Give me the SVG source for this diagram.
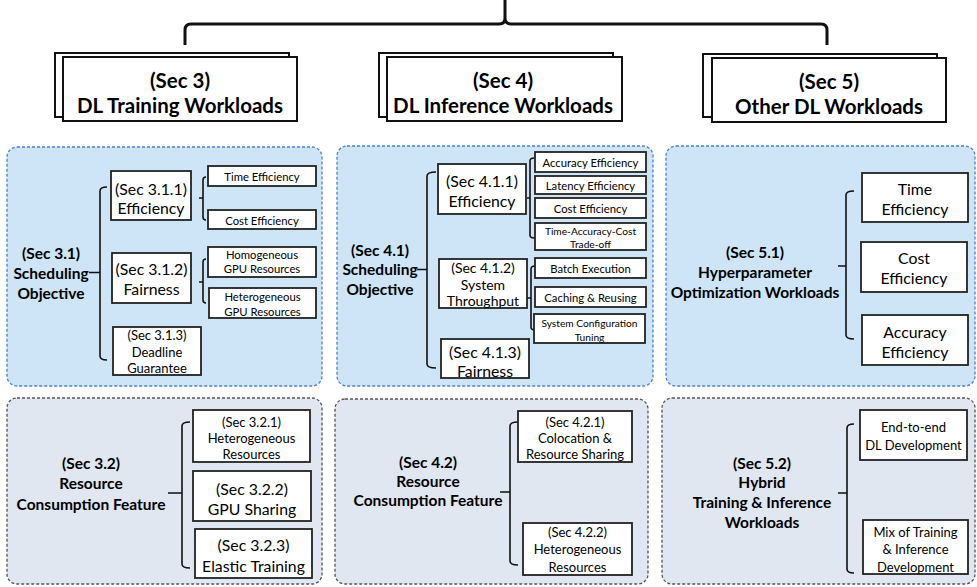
<svg xmlns="http://www.w3.org/2000/svg" width="977" height="587" viewBox="0 0 977 587">
<style>
text{font-family:Lato,"Open Sans","Liberation Sans",sans-serif;fill:#000;text-anchor:middle;dominant-baseline:central}
.hdr{font-size:20.5px;font-weight:bold}
.lbl{font-size:15.5px;font-weight:bold}
.f16{font-size:15.8px}
.f14{font-size:14px}
.f13{font-size:13px}
.f11{font-size:11.3px}
.f10{font-size:10.2px}
.pb{fill:#cde5f6;stroke:#4a7fd0;stroke-width:1.3;stroke-dasharray:3 2}
.pg{fill:#e0e7f0;stroke:#555;stroke-width:1.3;stroke-dasharray:3 2}
.box{fill:#fff;stroke:#222;stroke-width:1.8}
.hb{fill:#fff;stroke:#111;stroke-width:2}
.ln{fill:none;stroke:#111;stroke-width:1.6}
.br{fill:none;stroke:#111;stroke-width:3}
</style>

<g id="panels">
<rect class="pb" x="7" y="147" width="315" height="239" rx="10"/>
<rect class="pb" x="337" y="146" width="316" height="240" rx="10"/>
<rect class="pb" x="666" y="146" width="309" height="240" rx="10"/>
<rect class="pg" x="7" y="398" width="315" height="186" rx="10"/>
<rect class="pg" x="335" y="399" width="313" height="185" rx="10"/>
<rect class="pg" x="662" y="398" width="313" height="186" rx="10"/>
</g>

<g id="connectors">
<path class="br" d="M185,45 V30 Q185,24 191,24 H499 Q505,24 505,18 V0 M505,18 Q505,24 511,24 H821 Q827,24 827,30 V45"/>
<path class="ln" d="M89,272.5 H100 M107,187 Q100,187 100,191 V356 Q100,360 107,360"/>
<path class="ln" d="M199,198 H203 M206,177 Q203,177 203,180 V217 Q203,220 206,220"/>
<path class="ln" d="M199,282 H203 M206,259 Q203,259 203,262 V300 Q203,303 206,303"/>
<path class="ln" d="M417,269.5 H427 M436,172 Q427,172 427,176 V364 Q427,368 436,368"/>
<path class="ln" d="M527,198 H530 M534,158 Q530,158 530,161 V235 Q530,238 534,238"/>
<path class="ln" d="M527,298 H531 M535,266 Q531,266 531,269 V327 Q531,330 535,330"/>
<path class="ln" d="M838,266 H846 M854,191 Q846,191 846,195 V335 Q846,339 854,339"/>
<path class="ln" d="M168,493 H182 M190,422 Q182,422 182,426 V564 Q182,568 190,568"/>
<path class="ln" d="M500,492 H510 M518,422 Q510,422 510,426 V561 Q510,565 518,565"/>
<path class="ln" d="M838,493 H847 M854,424 Q847,424 847,428 V569 Q847,573 854,573"/>
</g>

<g id="sec3">
<rect class="hb" x="55" y="53" width="234" height="64"/>
<rect class="hb" x="63" y="57" width="234" height="64"/>
<text class="hdr" x="180" y="80">(Sec 3)</text>
<text class="hdr" x="180" y="105">DL Training Workloads</text>
</g>
<g id="sec4">
<rect class="hb" x="379" y="53" width="234" height="64"/>
<rect class="hb" x="387" y="57" width="235" height="64"/>
<text class="hdr" x="503" y="80">(Sec 4)</text>
<text class="hdr" x="503" y="104.5">DL Inference Workloads</text>
</g>
<g id="sec5">
<rect class="hb" x="703" y="54" width="234" height="63"/>
<rect class="hb" x="712" y="58" width="234" height="64"/>
<text class="hdr" x="829" y="81">(Sec 5)</text>
<text class="hdr" x="829" y="106">Other DL Workloads</text>
</g>

<g id="sec31">
<text class="lbl" x="51" y="253">(Sec 3.1)</text>
<text class="lbl" x="51" y="272.5">Scheduling</text>
<text class="lbl" x="51" y="293">Objective</text>
</g>
<g id="sec311">
<rect class="box" x="111" y="171" width="80" height="49"/>
<text class="f16" x="151" y="188">(Sec 3.1.1)</text>
<text class="f16" x="151" y="207">Efficiency</text>
</g>
<g id="n311a"><rect class="box" x="208" y="166" width="108" height="20"/><text class="f11" x="262" y="176">Time Efficiency</text></g>
<g id="n311b"><rect class="box" x="208" y="210" width="108" height="19"/><text class="f11" x="262" y="220">Cost Efficiency</text></g>
<g id="sec312">
<rect class="box" x="112" y="253" width="79" height="50"/>
<text class="f16" x="151.5" y="268">(Sec 3.1.2)</text>
<text class="f16" x="151.5" y="288">Fairness</text>
</g>
<g id="n312a"><rect class="box" x="208" y="247" width="108" height="30"/><text class="f11" x="262" y="254">Homogeneous</text><text class="f11" x="262" y="268">GPU Resources</text></g>
<g id="n312b"><rect class="box" x="209" y="288" width="107" height="30"/><text class="f11" x="262.5" y="296">Heterogeneous</text><text class="f11" x="262.5" y="311">GPU Resources</text></g>
<g id="sec313">
<rect class="box" x="113" y="327" width="88" height="48"/>
<text class="f13" x="157" y="334.5">(Sec 3.1.3)</text>
<text class="f13" x="157" y="351.5">Deadline</text>
<text class="f13" x="157" y="368">Guarantee</text>
</g>

<g id="sec41">
<text class="lbl" x="380" y="250">(Sec 4.1)</text>
<text class="lbl" x="380" y="269">Scheduling</text>
<text class="lbl" x="380" y="288.5">Objective</text>
</g>
<g id="sec411">
<rect class="box" x="438" y="164" width="88" height="50"/>
<text class="f16" x="482" y="180">(Sec 4.1.1)</text>
<text class="f16" x="482" y="200">Efficiency</text>
</g>
<g id="n411a"><rect class="box" x="535" y="152" width="111" height="20"/><text class="f11" x="590.5" y="162">Accuracy Efficiency</text></g>
<g id="n411b"><rect class="box" x="535" y="176" width="111" height="18"/><text class="f11" x="590.5" y="185">Latency Efficiency</text></g>
<g id="n411c"><rect class="box" x="535" y="198" width="111" height="20"/><text class="f11" x="590.5" y="208">Cost Efficiency</text></g>
<g id="n411d"><rect class="box" x="535" y="223" width="111" height="27"/><text class="f10" x="590.5" y="230.5">Time-Accuracy-Cost</text><text class="f10" x="590.5" y="243.5">Trade-off</text></g>
<g id="sec412">
<rect class="box" x="439" y="259" width="88" height="49"/>
<text class="f14" x="483" y="267">(Sec 4.1.2)</text>
<text class="f14" x="483" y="284">System</text>
<text class="f14" x="483" y="300.5">Throughput</text>
</g>
<g id="n412a"><rect class="box" x="535" y="258" width="111" height="20"/><text class="f11" x="590.5" y="268">Batch Execution</text></g>
<g id="n412b"><rect class="box" x="535" y="287" width="111" height="20"/><text class="f11" x="590.5" y="297">Caching &amp; Reusing</text></g>
<g id="n412c"><rect class="box" x="534" y="314" width="111" height="29"/><text class="f10" x="589.5" y="322.5">System Configuration</text><text class="f10" x="589.5" y="336.5">Tuning</text></g>
<g id="sec413">
<rect class="box" x="441" y="339" width="88" height="39"/>
<text class="f16" x="485" y="351">(Sec 4.1.3)</text>
<text class="f16" x="485" y="370">Fairness</text>
</g>

<g id="sec51">
<text class="lbl" x="755" y="252">(Sec 5.1)</text>
<text class="lbl" x="755" y="272">Hyperparameter</text>
<text class="lbl" x="755" y="292">Optimization Workloads</text>
</g>
<g id="n51a"><rect class="box" x="862" y="173" width="106" height="49"/><text class="f16" x="915" y="188.5">Time</text><text class="f16" x="915" y="208.5">Efficiency</text></g>
<g id="n51b"><rect class="box" x="861" y="242" width="106" height="50"/><text class="f16" x="914" y="257">Cost</text><text class="f16" x="914" y="277">Efficiency</text></g>
<g id="n51c"><rect class="box" x="862" y="315" width="106" height="50"/><text class="f16" x="915" y="331">Accuracy</text><text class="f16" x="915" y="351">Efficiency</text></g>

<g id="sec32">
<text class="lbl" x="91" y="463">(Sec 3.2)</text>
<text class="lbl" x="91" y="483">Resource</text>
<text class="lbl" x="91" y="503.5">Consumption Feature</text>
</g>
<g id="sec321"><rect class="box" x="193" y="410" width="117" height="52"/><text class="f13" x="251.5" y="422">(Sec 3.2.1)</text><text class="f13" x="251.5" y="438">Heterogeneous</text><text class="f13" x="251.5" y="454">Resources</text></g>
<g id="sec322"><rect class="box" x="193" y="471" width="118" height="50"/><text class="f16" x="252" y="488">(Sec 3.2.2)</text><text class="f16" x="252" y="508.5">GPU Sharing</text></g>
<g id="sec323"><rect class="box" x="195" y="529" width="117" height="49"/><text class="f16" x="253.5" y="544.5">(Sec 3.2.3)</text><text class="f16" x="253.5" y="565">Elastic Training</text></g>

<g id="sec42">
<text class="lbl" x="428" y="462">(Sec 4.2)</text>
<text class="lbl" x="428" y="480.5">Resource</text>
<text class="lbl" x="428" y="500">Consumption Feature</text>
</g>
<g id="sec421"><rect class="box" x="518" y="411" width="114" height="51"/><text class="f13" x="575" y="422">(Sec 4.2.1)</text><text class="f13" x="575" y="437.5">Colocation &amp;</text><text class="f13" x="575" y="453.5">Resource Sharing</text></g>
<g id="sec422"><rect class="box" x="523" y="523" width="109" height="52"/><text class="f13" x="577.5" y="532">(Sec 4.2.2)</text><text class="f13" x="577.5" y="548.5">Heterogeneous</text><text class="f13" x="577.5" y="566.5">Resources</text></g>

<g id="sec52">
<text class="lbl" x="762" y="463">(Sec 5.2)</text>
<text class="lbl" x="762" y="482">Hybrid</text>
<text class="lbl" x="762" y="502">Training &amp; Inference</text>
<text class="lbl" x="762" y="522">Workloads</text>
</g>
<g id="n52a"><rect class="box" x="860" y="410" width="107" height="50"/><text class="f13" x="913.5" y="427">End-to-end</text><text class="f13" x="913.5" y="445">DL Development</text></g>
<g id="n52b"><rect class="box" x="863" y="520" width="105" height="54"/><text class="f13" x="915.5" y="532">Mix of Training</text><text class="f13" x="915.5" y="549">&amp; Inference</text><text class="f13" x="915.5" y="566.5">Development</text></g>
</svg>
